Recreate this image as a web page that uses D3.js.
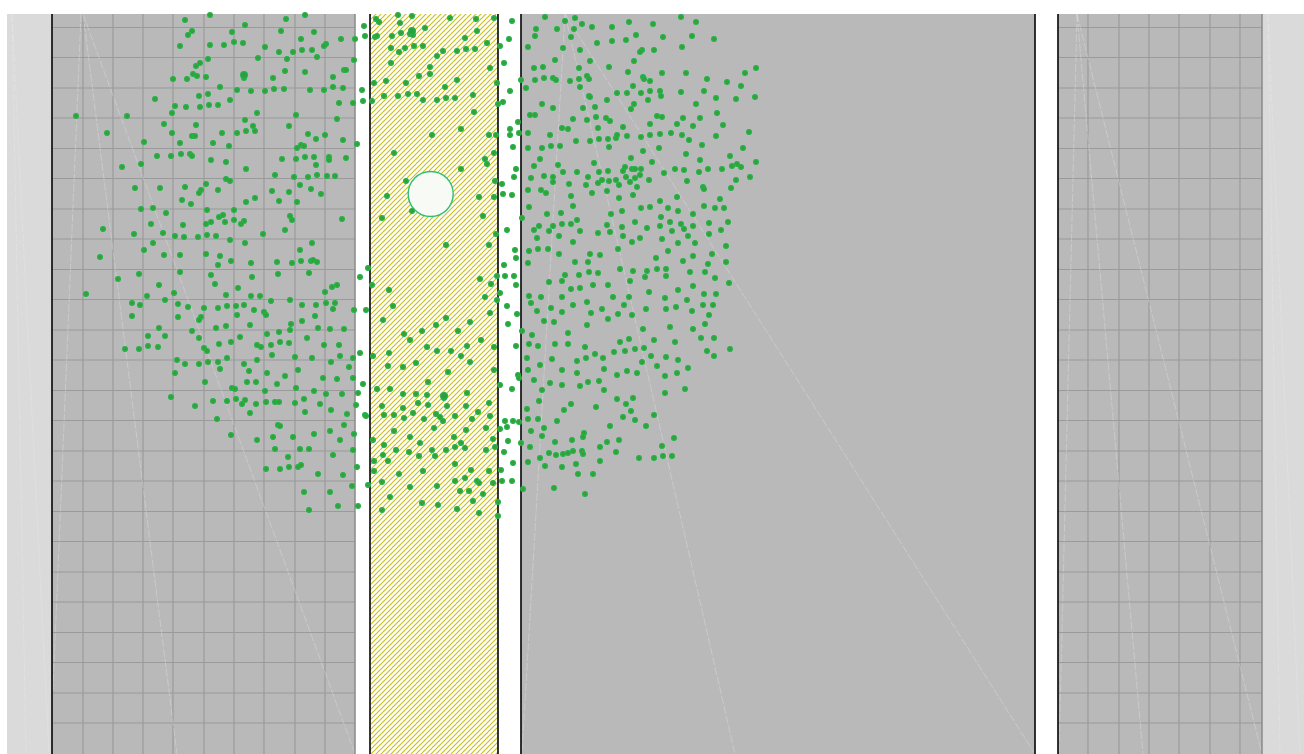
<!DOCTYPE html>
<html>
<head>
<meta charset="utf-8">
<script src="https://cdn.jsdelivr.net/npm/d3@7"></script>
<style>
  html, body { margin: 0; padding: 0; background: #fff; }
  svg { display: block; }
</style>
</head>
<body>
<script>
// site plan values, in reference units (1 unit = 1 px of the 1304 x 754 sheet)
var lightStrips = [[7, 52], [1262, 1304]];
var grayPanels = [[52, 355], [521, 1035], [1058, 1262]];
var hatchBand = [370, 498];
var darkEdges = [52, 370, 498, 521, 1035, 1058];
var greyEdges = [355, 1262];
var westGridX = [83, 113, 143, 173, 204, 234, 264, 295, 325];
var eastGridX = [1088, 1119, 1149, 1179, 1210, 1240];
var gridY = [27.5, 57.5, 88, 118, 148.5, 178.5, 209, 239, 269.5, 299.5, 330, 360,
  390.5, 420.5, 451, 481, 511.5, 541.5, 572, 602, 632.5, 662.5, 693, 723];
var traces = [
  [[83, 14], [177, 754]], [[83, 14], [355, 754]], [[81, 14], [53, 690]],
  [[12, 14], [26, 754]], [[12, 14], [49, 754]],
  [[565, 14], [522, 754]], [[565, 14], [735, 754]], [[565, 14], [1035, 754]],
  [[1077, 14], [1143, 754]], [[1077, 14], [1262, 754]], [[1077, 14], [1059, 754]],
  [[1268, 14], [1280, 754]], [[1268, 14], [1300, 754]]
];
var pond = {cx: 430.7, cy: 194, r: 22.5};

var westDots = [[185,20],[245,25],[286,19],[210,15],[305,15],[192,31],[188,35],[232,32],[281,31],[314,32],[301,39],[341,39],[355,39],[180,46],[210,45],[224,45],[234,42],[243,43],[265,47],[279,52],[293,52],[302,50],[312,50],[326,44],[324,46],[317,57],[287,59],[258,58],[208,59],[200,63],[196,66],[354,60],[344,70],[346,70],[305,72],[285,71],[244,78],[193,74],[197,76],[206,77],[187,79],[173,79],[273,78],[333,77],[220,87],[237,90],[251,91],[265,91],[274,89],[284,89],[310,90],[324,90],[333,87],[343,88],[199,96],[208,94],[155,99],[230,100],[175,106],[186,107],[200,107],[209,105],[218,105],[339,103],[353,103],[172,113],[257,113],[296,115],[76,116],[127,116],[245,120],[337,119],[164,124],[196,125],[253,126],[289,126],[107,133],[172,133],[192,136],[195,136],[222,133],[237,133],[246,131],[255,131],[308,134],[316,139],[325,135],[343,140],[144,142],[180,143],[213,143],[229,146],[301,145],[297,148],[304,146],[157,156],[171,156],[181,154],[190,154],[192,156],[211,160],[226,162],[282,159],[296,159],[305,157],[314,157],[329,157],[329,160],[346,158],[122,167],[141,164],[316,165],[246,169],[275,175],[294,177],[308,177],[317,175],[327,176],[335,176],[226,179],[230,181],[135,188],[160,188],[185,187],[206,184],[201,190],[199,193],[218,190],[300,185],[311,189],[272,191],[289,192],[321,194],[182,200],[191,204],[246,202],[255,198],[279,201],[297,202],[141,209],[153,208],[166,213],[207,210],[234,210],[219,217],[223,215],[234,220],[244,221],[241,224],[225,222],[211,222],[206,224],[290,216],[292,220],[342,219],[103,229],[151,224],[183,225],[285,230],[134,234],[163,233],[175,236],[184,237],[198,237],[207,235],[216,236],[263,234],[153,243],[230,240],[245,243],[312,243],[144,250],[300,250],[100,257],[164,255],[180,255],[206,254],[220,256],
[231,261],[218,265],[251,263],[277,262],[292,263],[301,261],[311,261],[313,260],[317,262],[118,279],[139,274],[180,272],[211,275],[252,277],[278,274],[309,273],[159,285],[215,284],[238,288],[332,287],[337,285],[86,294],[147,296],[174,293],[226,295],[251,296],[260,296],[325,292],[165,300],[271,301],[290,300],[132,303],[140,305],[178,304],[188,307],[204,308],[218,308],[227,306],[236,306],[244,305],[254,310],[264,312],[266,315],[302,305],[316,305],[326,303],[335,303],[333,309],[354,310],[132,316],[178,317],[201,317],[199,320],[237,315],[315,316],[302,321],[159,328],[192,331],[216,328],[226,326],[250,325],[291,324],[290,330],[279,332],[267,334],[318,328],[330,329],[344,329],[148,336],[165,336],[199,338],[240,337],[307,338],[125,349],[139,349],[148,346],[158,347],[204,348],[207,351],[219,344],[231,342],[257,345],[261,347],[271,345],[280,342],[289,343],[324,345],[339,345],[272,355],[295,357],[312,358],[331,362],[340,356],[353,358],[177,360],[185,364],[199,364],[208,362],[218,362],[227,358],[220,369],[244,364],[257,360],[249,371],[267,373],[298,370],[175,373],[285,376],[349,367],[323,378],[337,379],[353,378],[205,382],[247,382],[256,382],[277,384],[232,388],[235,389],[296,388],[314,391],[265,391],[326,394],[342,394],[171,397],[213,401],[227,401],[236,399],[245,400],[242,404],[256,404],[266,402],[275,402],[279,402],[295,403],[304,399],[320,404],[195,406],[250,413],[305,412],[331,410],[347,414],[217,419],[278,425],[280,426],[344,425],[231,435],[257,440],[273,437],[293,437],[314,434],[330,431],[340,440],[354,434],[275,449],[300,449],[309,449],[353,450],[288,457],[333,455],[266,469],[280,469],[289,467],[298,467],[301,465],[318,474],[343,475],[352,486],[304,492],[330,492],[309,510],[338,506]];

var gapWestDots = [[364,26],[365,36],[362,90],[363,101],[357,144],[360,277],[368,268],[366,310],[360,353],[363,384],[358,393],[356,405],[365,415],[366,416],[357,467],[368,485],[358,506]];

var bandDots = [[376,19],[379,22],[398,15],[412,16],[400,23],[450,18],[476,19],[494,18],[375,37],[377,36],[392,36],[401,33],[410,34],[413,35],[425,28],[477,31],[465,38],[391,48],[399,52],[405,48],[414,46],[423,46],[443,51],[457,51],[466,49],[475,49],[487,43],[437,56],[391,63],[430,67],[430,74],[419,76],[490,68],[374,83],[386,81],[406,83],[457,80],[445,87],[384,96],[398,96],[408,94],[417,94],[423,100],[437,100],[446,98],[455,98],[473,95],[372,101],[474,112],[461,129],[432,135],[489,135],[496,135],[497,83],
[394,153],[494,153],[485,159],[487,164],[461,169],[406,181],[495,181],[387,196],[479,197],[494,197],[412,211],[382,218],[483,216],[496,234],[446,245],[489,245],
[372,285],[389,290],[393,306],[383,320],[404,334],[422,331],[436,325],[446,318],[458,331],[470,322],[485,297],[491,284],[480,279],[497,276],[497,300],[490,313],[427,347],[437,351],[451,351],[467,346],[481,340],[494,347],[389,353],[373,356],[388,366],[403,367],[416,363],[470,362],[494,370],[448,372],[410,340],[461,356],
[428,382],[377,389],[390,389],[403,394],[416,394],[427,395],[444,398],[467,393],[382,406],[403,408],[418,403],[428,405],[447,406],[466,406],[489,403],[384,415],[394,415],[404,418],[413,413],[424,419],[436,414],[440,417],[443,421],[455,416],[472,419],[478,412],[490,416],[394,431],[434,428],[466,430],[486,428],[373,440],[410,437],[454,437],[420,443],[446,450],[455,447],[461,443],[465,448],[493,439],[495,447],[384,445],[396,450],[409,452],[432,450],[486,450],[383,455],[419,456],[435,456],[374,461],[388,461],[455,464],[374,471],[399,474],[423,471],[471,470],[489,471],[465,478],[382,482],[410,487],[437,486],[455,481],[477,481],[479,483],[493,483],[460,491],[469,491],[483,494],[390,497],[422,503],[438,505],[457,509],[473,501],[479,513],[382,510]];

var gapEastDots = [[512,21],[509,39],[500,46],[504,63],[521,80],[510,91],[503,102],[498,104],[518,122],[510,129],[510,135],[519,133],[513,147],[516,169],[514,177],[502,184],[503,194],[512,195],[522,218],[507,230],[515,250],[516,258],[504,265],[505,276],[514,276],[516,285],[500,293],[507,306],[517,314],[508,324],[522,331],[516,346],[518,375],[519,378],[500,385],[512,389],[505,421],[513,421],[519,422],[507,427],[500,429],[508,441],[521,443],[504,452],[513,463],[501,470],[502,481],[512,481],[523,489],[498,502],[498,516]];

var eastDots = [[545,17],[575,18],[565,21],[681,17],[582,24],[629,22],[653,24],[696,22],[536,29],[557,29],[574,29],[592,27],[612,27],[535,36],[571,37],[636,35],[663,37],[692,36],[714,39],[597,43],[612,41],[626,40],[528,47],[563,48],[580,50],[642,50],[640,52],[654,50],[682,47],[555,60],[590,61],[634,61],[534,68],[543,67],[579,68],[609,67],[628,72],[662,73],[686,73],[745,73],[756,68],[535,80],[544,78],[553,78],[556,80],[570,81],[579,79],[587,76],[589,79],[643,77],[644,79],[650,81],[707,79],[727,82],[526,88],[580,87],[633,86],[741,86],[617,93],[627,93],[641,93],[650,91],[660,91],[661,96],[681,92],[704,91],[589,96],[590,97],[607,100],[648,100],[716,98],[736,99],[755,97],[542,104],[553,108],[583,108],[595,107],[634,104],[631,109],[696,104],[530,115],[535,115],[573,119],[587,120],[596,117],[606,118],[610,121],[657,116],[662,117],[683,118],[700,118],[717,113],[562,128],[568,129],[598,128],[623,127],[650,124],[677,124],[693,126],[723,125],[528,133],[550,135],[576,141],[590,141],[599,139],[608,139],[616,138],[617,135],[627,136],[641,137],[650,135],[660,134],[671,133],[682,135],[689,140],[716,136],[749,132],[528,148],[542,148],[551,146],[560,146],[609,147],[643,151],[659,148],[702,145],[743,148],[540,159],[631,158],[652,162],[686,154],[700,160],[730,156],[534,166],[558,165],[594,163],[625,167],[632,169],[635,169],[641,169],[675,169],[684,170],[708,169],[722,169],[732,166],[737,164],[741,167],[756,162],[531,178],[544,176],[553,177],[563,172],[577,172],[599,172],[608,171],[623,171],[626,177],[635,178],[640,175],[664,173],[699,172],[750,177],[553,182],[569,184],[588,177],[586,185],[598,183],[602,180],[609,181],[616,180],[619,185],[630,182],[637,187],[649,180],[687,181],[703,187],[704,189],[731,188],[736,180],[528,190],[541,190],[546,193],[571,196],[592,193],[607,191],[619,198],[633,195],[660,201],[677,197],[720,199],[529,207],[573,206],[622,211],[641,208],[650,207],[668,208],[678,211],[704,206],[715,208],[724,208],[547,214],[561,213],[611,214],[661,217],[693,214],[553,226],[562,224],[571,224],[577,220],[607,225],[635,222],[660,226],[670,222],[681,224],[693,226],[709,223],[728,222],[534,230],[539,226],[549,231],[580,231],[598,233],[610,232],[622,227],[647,228],[672,231],[684,229],[721,230],[537,238],[559,236],[573,242],[623,236],[632,242],[640,238],[662,239],[678,243],[688,236],[695,243],[709,234],[726,246],[529,251],[538,249],[548,249],[559,254],[590,254],[600,255],[618,249],[668,251],[693,256],[712,254],
[528,263],[575,262],[588,262],[656,258],[683,261],[708,264],[726,262],[562,281],[565,275],[579,275],[589,272],[598,273],[549,282],[620,269],[633,271],[647,271],[657,269],[666,269],[666,276],[645,277],[690,272],[705,272],[715,278],[729,283],[630,281],[571,289],[580,288],[593,285],[608,285],[678,290],[693,286],[529,296],[541,297],[562,297],[587,302],[613,297],[629,297],[649,292],[665,298],[687,300],[704,294],[716,294],[531,303],[551,308],[573,305],[602,309],[624,305],[646,309],[666,309],[676,307],[703,305],[713,305],[537,311],[562,312],[591,313],[618,314],[632,315],[692,311],[709,315],[544,321],[554,322],[608,319],[705,324],[587,325],[643,329],[670,327],[693,329],[532,335],[568,333],[701,338],[714,338],[654,340],[675,342],[529,344],[538,346],[555,344],[568,344],[585,347],[620,342],[629,339],[635,349],[644,348],[625,351],[614,352],[595,354],[707,351],[730,349],[527,358],[552,359],[577,361],[586,358],[603,358],[651,356],[666,357],[678,360],[714,356],[540,365],[642,362],[657,366],[528,370],[562,370],[604,369],[627,371],[637,373],[688,368],[577,373],[617,375],[665,376],[677,373],[534,380],[550,383],[562,385],[580,386],[588,382],[599,381],[542,390],[604,390],[665,393],[685,389],[539,401],[571,404],[617,399],[626,404],[633,398],[527,409],[564,410],[596,407],[631,411],[654,415],[528,419],[538,419],[557,421],[623,417],[635,420],[544,428],[610,426],[646,426],[531,431],[542,436],[584,433],[583,437],[674,438],[555,442],[572,440],[607,442],[619,440],[530,447],[600,447],[662,446],[549,453],[556,455],[563,454],[568,453],[573,451],[582,451],[583,454],[616,452],[540,458],[639,458],[654,458],[663,456],[672,456],[528,462],[545,466],[562,467],[576,464],[600,461],[578,474],[593,474],[554,488],[585,494]];

var largeDots = [[244,75], [412,31], [444,396]];

var width = 1304, height = 754;
var yTop = 14;

var x = d3.scaleLinear().domain([0, 1304]).range([0, width]);
var y = d3.scaleLinear().domain([0, 754]).range([0, height]);

var svg = d3.select('body').append('svg')
    .attr('width', width)
    .attr('height', height);

var defs = svg.append('defs');
var hatch = defs.append('pattern')
    .attr('id', 'hatch')
    .attr('patternUnits', 'userSpaceOnUse')
    .attr('width', 5)
    .attr('height', 5);
hatch.append('rect').attr('width', 5).attr('height', 5).attr('fill', '#ffffff');
hatch.append('path')
    .attr('d', 'M-1,1 l2,-2 M0,5 l5,-5 M4,6 l2,-2')
    .attr('stroke', '#c9bd1a')
    .attr('stroke-width', 1.1);

// light strips at both sides
svg.selectAll('.strip')
    .data(lightStrips)
    .enter().append('rect')
    .attr('class', 'strip')
    .attr('x', function(d) { return x(d[0]); })
    .attr('y', y(yTop))
    .attr('width', function(d) { return x(d[1]) - x(d[0]); })
    .attr('height', y(754) - y(yTop))
    .attr('fill', '#dadada');

// grey lots
svg.selectAll('.lot')
    .data(grayPanels)
    .enter().append('rect')
    .attr('class', 'lot')
    .attr('x', function(d) { return x(d[0]); })
    .attr('y', y(yTop))
    .attr('width', function(d) { return x(d[1]) - x(d[0]); })
    .attr('height', y(754) - y(yTop))
    .attr('fill', '#b9b9b9');

// hatched band
svg.append('rect')
    .attr('x', x(hatchBand[0]))
    .attr('y', y(yTop))
    .attr('width', x(hatchBand[1]) - x(hatchBand[0]))
    .attr('height', y(754) - y(yTop))
    .attr('fill', 'url(#hatch)');

// grid on the west and east lots
var grid = svg.append('g')
    .attr('stroke', '#9a9a9a')
    .attr('stroke-width', 1.2);

grid.selectAll('.gx')
    .data(westGridX.concat(eastGridX))
    .enter().append('line')
    .attr('x1', function(d) { return x(d); })
    .attr('x2', function(d) { return x(d); })
    .attr('y1', y(yTop))
    .attr('y2', y(754));

[grayPanels[0], grayPanels[2]].forEach(function(p) {
  grid.append('g').selectAll('line')
    .data(gridY)
    .enter().append('line')
    .attr('x1', x(p[0]))
    .attr('x2', x(p[1]))
    .attr('y1', function(d) { return y(d); })
    .attr('y2', function(d) { return y(d); });
});

// faint survey traces
svg.append('g')
    .selectAll('line')
    .data(traces)
    .enter().append('line')
    .attr('x1', function(d) { return x(d[0][0]); })
    .attr('y1', function(d) { return y(d[0][1]); })
    .attr('x2', function(d) { return x(d[1][0]); })
    .attr('y2', function(d) { return y(d[1][1]); })
    .attr('stroke', '#ececec')
    .attr('stroke-opacity', 0.4)
    .attr('stroke-width', 0.8)
    .attr('stroke-dasharray', '8,2');

// edges
svg.selectAll('.edge')
    .data(darkEdges)
    .enter().append('line')
    .attr('class', 'edge')
    .attr('x1', function(d) { return x(d); })
    .attr('x2', function(d) { return x(d); })
    .attr('y1', y(yTop))
    .attr('y2', y(754))
    .attr('stroke', '#111')
    .attr('stroke-width', 1.7);

svg.selectAll('.gedge')
    .data(greyEdges)
    .enter().append('line')
    .attr('class', 'gedge')
    .attr('x1', function(d) { return x(d); })
    .attr('x2', function(d) { return x(d); })
    .attr('y1', y(yTop))
    .attr('y2', y(754))
    .attr('stroke', '#8a8a8a')
    .attr('stroke-width', 1.5);

// pond
svg.append('circle')
    .attr('cx', x(pond.cx))
    .attr('cy', y(pond.cy))
    .attr('r', x(pond.r) - x(0))
    .attr('fill', '#f8faf6')
    .attr('stroke', '#2fbf6f')
    .attr('stroke-width', 1.4);

// trees
var allDots = westDots.concat(gapWestDots, bandDots, gapEastDots, eastDots);

svg.append('g')
    .selectAll('circle')
    .data(allDots)
    .enter().append('circle')
    .attr('cx', function(d) { return x(d[0]); })
    .attr('cy', function(d) { return y(d[1]); })
    .attr('r', 2.4)
    .attr('fill', '#3f9c32')
    .attr('stroke', '#20b44e')
    .attr('stroke-width', 1.2);

svg.append('g')
    .selectAll('circle')
    .data(largeDots)
    .enter().append('circle')
    .attr('cx', function(d) { return x(d[0]); })
    .attr('cy', function(d) { return y(d[1]); })
    .attr('r', 3.4)
    .attr('fill', '#2a9f3e')
    .attr('stroke', '#22b24c')
    .attr('stroke-width', 1.2);
</script>
</body>
</html>
